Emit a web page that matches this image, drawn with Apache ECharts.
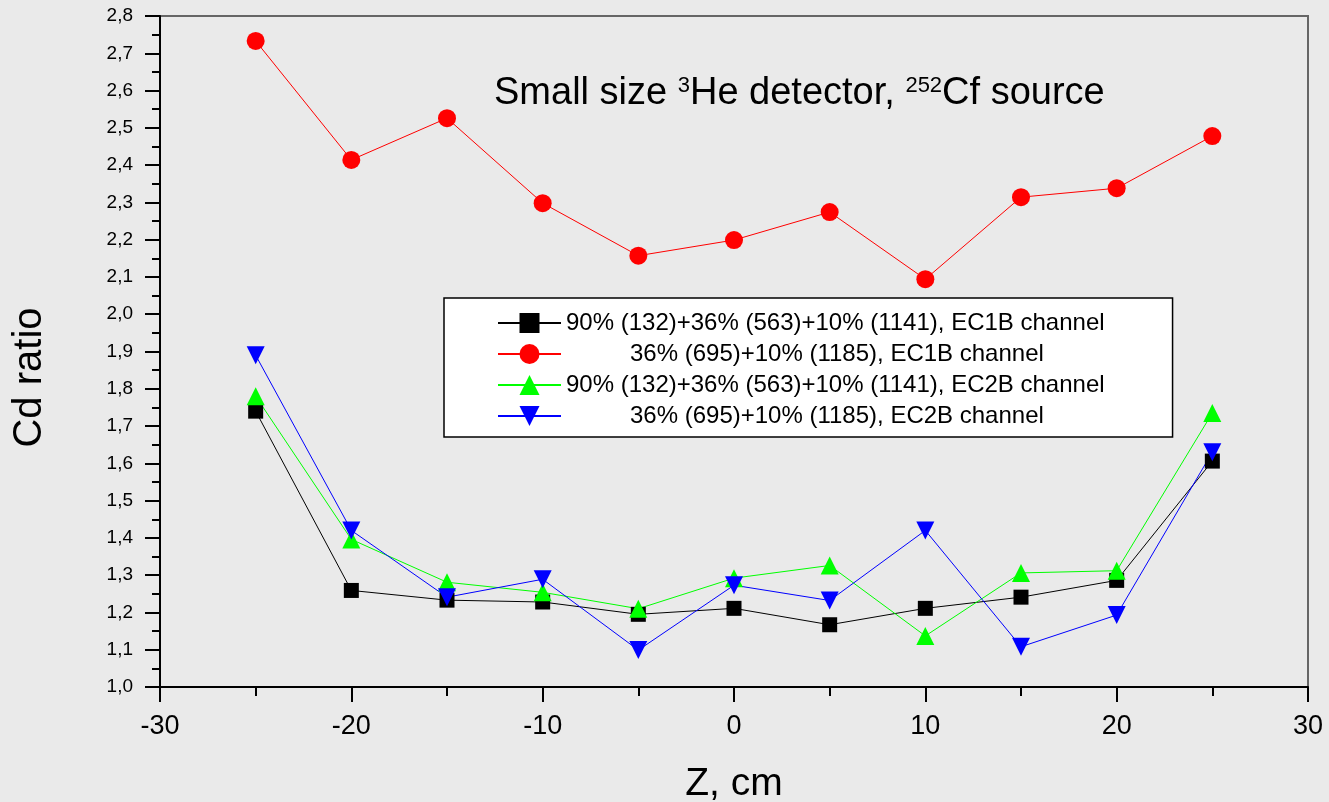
<!DOCTYPE html>
<html>
<head>
  <meta charset="utf-8">
  <script src="https://cdn.jsdelivr.net/npm/echarts@6/dist/echarts.min.js"></script>
</head>
<body style="margin: 0; background: #eaeaea">
  <div id="container" style="width: 1329px; height: 802px;"></div>
  <script>
    // z positions, cm
    const zValues = [-25, -20, -15, -10, -5, 0, 5, 10, 15, 20, 25];

    // Cd ratio per channel
    const ec1bFull = [1.740, 1.259, 1.233, 1.228, 1.195, 1.211, 1.167, 1.211, 1.241, 1.286, 1.606];
    const ec1bPart = [2.733, 2.414, 2.526, 2.298, 2.157, 2.199, 2.274, 2.094, 2.314, 2.338, 2.478];
    const ec2bFull = [1.780, 1.396, 1.281, 1.254, 1.210, 1.292, 1.326, 1.137, 1.306, 1.312, 1.735];
    const ec2bPart = [1.890, 1.420, 1.241, 1.289, 1.099, 1.273, 1.232, 1.420, 1.108, 1.193, 1.630];

    const seriesNames = [
      '90% (132)+36% (563)+10% (1141), EC1B channel',
      '36% (695)+10% (1185), EC1B channel',
      '90% (132)+36% (563)+10% (1141), EC2B channel',
      '36% (695)+10% (1185), EC2B channel'
    ];

    const chart = echarts.init(document.getElementById('container'), null, { renderer: 'canvas' });

    function pairs(vals) {
      return zValues.map((z, i) => [z, vals[i]]);
    }

    function makeSeries(name, vals, color, symbol, size, rotate) {
      return {
        name: name,
        type: 'line',
        data: pairs(vals),
        symbol: symbol,
        symbolSize: size,
        symbolRotate: rotate || 0,
        showAllSymbol: true,
        lineStyle: { color: color, width: 1 },
        itemStyle: { color: color, borderWidth: 0 },
        emphasis: { disabled: true },
        animation: false
      };
    }

    const font = 'Liberation Sans, Arial, sans-serif';

    // short entries are centred under the long ones, as in the original legend
    const legendData = seriesNames.map((n, i) => ({
      name: n,
      textStyle: { padding: [0, 0, 0, i % 2 ? 64 : 0] }
    }));

    const option = {
      backgroundColor: '#eaeaea',
      textStyle: { fontFamily: font },
      title: {
        text: '{n|Small size }{s|3}{n|He detector, }{s|252}{n|Cf source}',
        left: 489,
        top: 70,
        textStyle: {
          fontWeight: 'normal',
          rich: {
            n: { fontSize: 38, color: '#000', fontFamily: font, fontWeight: 'normal' },
            s: { fontSize: 22, color: '#000', fontFamily: font, fontWeight: 'normal', verticalAlign: 'top', padding: [0, 0, 14, 0] }
          }
        }
      },
      legend: {
        orient: 'vertical',
        left: 444,
        top: 298,
        backgroundColor: '#fff',
        borderColor: '#000',
        borderWidth: 1.5,
        borderRadius: 0,
        padding: [13, 68, 9, 53],
        itemGap: 7,
        itemWidth: 63,
        itemHeight: 25,
        data: legendData,
        textStyle: { fontSize: 24, color: '#000', fontFamily: font }
      },
      grid: {
        left: 160,
        right: 21,
        top: 16,
        bottom: 115,
        outerBoundsMode: 'none',
        show: true,
        borderColor: '#666',
        borderWidth: 2,
        backgroundColor: 'transparent'
      },
      xAxis: {
        type: 'value',
        min: -30,
        max: 30,
        interval: 10,
        name: 'Z, cm',
        nameLocation: 'middle',
        nameGap: 78,
        nameTextStyle: { fontSize: 39, color: '#000' },
        axisLine: { onZero: false, lineStyle: { color: '#000', width: 2 } },
        axisTick: { length: 15, lineStyle: { color: '#000', width: 2 } },
        minorTick: { show: true, splitNumber: 2, length: 9, lineStyle: { color: '#000', width: 2 } },
        axisLabel: { fontSize: 27, color: '#000', margin: 26 },
        splitLine: { show: false }
      },
      yAxis: {
        type: 'value',
        min: 1.0,
        max: 2.8,
        interval: 0.1,
        name: 'Cd ratio',
        nameLocation: 'middle',
        nameGap: 110,
        nameTextStyle: { fontSize: 40, color: '#000', padding: [0, 52, 0, 0] },
        axisLine: { onZero: false, lineStyle: { color: '#000', width: 2 } },
        axisTick: { length: 15, lineStyle: { color: '#000', width: 2 } },
        minorTick: { show: true, splitNumber: 2, length: 8, lineStyle: { color: '#000', width: 2 } },
        axisLabel: {
          fontSize: 19,
          color: '#000',
          margin: 27,
          formatter: function (v) { return v.toFixed(1).replace('.', ','); }
        },
        splitLine: { show: false }
      },
      series: [
        makeSeries(seriesNames[0], ec1bFull, '#000000', 'rect', 15),
        makeSeries(seriesNames[1], ec1bPart, '#ff0000', 'circle', 18),
        makeSeries(seriesNames[2], ec2bFull, '#00ff00', 'triangle', 18),
        makeSeries(seriesNames[3], ec2bPart, '#0000ff', 'triangle', 18, 180)
      ]
    };

    chart.setOption(option);
  </script>
</body>
</html>
